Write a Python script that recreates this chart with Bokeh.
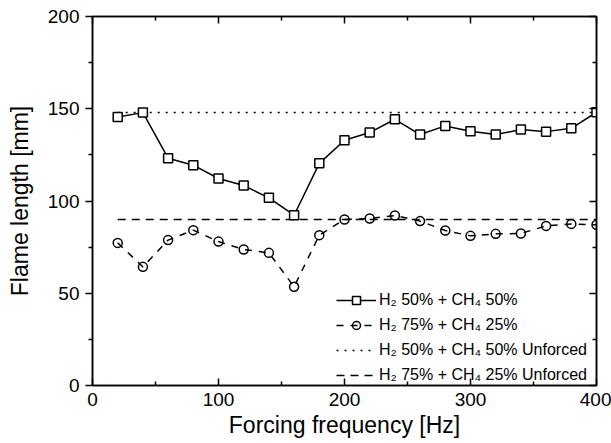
from bokeh.plotting import figure
from bokeh.models import Range1d, LinearAxis, FixedTicker, Legend, LegendItem
from bokeh.embed import file_html
from bokeh.resources import INLINE

# ---- data ----
freq = [20, 40, 60, 80, 100, 120, 140, 160, 180, 200,
        220, 240, 260, 280, 300, 320, 340, 360, 380, 400]
h2_50_ch4_50 = [145.5, 147.9, 123.2, 119.4, 112.2, 108.4, 101.7, 92.3, 120.4, 132.9,
                137.1, 144.3, 136.0, 140.7, 137.8, 136.0, 138.7, 137.6, 139.4, 148.1]
h2_75_ch4_25 = [77.3, 64.3, 78.8, 84.2, 78.0, 73.7, 71.9, 53.5, 81.5, 90.0,
                90.5, 92.1, 89.1, 84.0, 81.1, 82.2, 82.4, 86.5, 87.6, 87.1]
unforced_50 = 147.9
unforced_75 = 90.0
x_ticks = [0, 100, 200, 300, 400]
x_minor = [50, 150, 250, 350]
y_ticks = [0, 50, 100, 150, 200]
y_minor = [25, 75, 125, 175]
labels = ["H\u2082 50% + CH\u2084 50%",
          "H\u2082 75% + CH\u2084 25%",
          "H\u2082 50% + CH\u2084 50% Unforced",
          "H\u2082 75% + CH\u2084 25% Unforced"]

FONT = "Liberation Sans"

p = figure(width=611, height=443, output_backend="svg", toolbar_location=None,
           x_range=Range1d(0, 400), y_range=Range1d(0, 200),
           x_axis_label="Forcing frequency [Hz]", y_axis_label="Flame length [mm]")
p.min_border_left = 92
p.min_border_right = 15
p.min_border_top = 16
p.min_border_bottom = 58
p.xgrid.visible = False
p.ygrid.visible = False
p.outline_line_color = "black"
p.outline_line_width = 1.5
p.background_fill_color = "white"
p.border_fill_color = "white"

xt = FixedTicker(ticks=x_ticks, minor_ticks=x_minor)
yt = FixedTicker(ticks=y_ticks, minor_ticks=y_minor)

def style(ax, ticker, ticks, inside, show_labels):
    ax.ticker = ticker
    ax.axis_line_color = "black"
    ax.axis_line_width = 1.5
    ax.major_tick_line_width = 1.5
    ax.minor_tick_line_width = 1.5
    ax.major_tick_line_color = "black"
    ax.minor_tick_line_color = "black"
    if inside:
        ax.major_tick_in, ax.major_tick_out = 7, 0
        ax.minor_tick_in, ax.minor_tick_out = 4, 0
    else:
        ax.major_tick_in, ax.major_tick_out = 0, 7
        ax.minor_tick_in, ax.minor_tick_out = 0, 4
    if show_labels:
        ax.major_label_text_font = FONT
        ax.major_label_text_font_size = "19px"
        ax.major_label_text_color = "black"
        ax.axis_label_text_font = FONT
        ax.axis_label_text_font_size = "23px"
        ax.axis_label_text_font_style = "normal"
        ax.axis_label_text_color = "black"
    else:
        ax.major_label_overrides = {t: "" for t in ticks}
        ax.major_label_standoff = 0

xa = p.xaxis[0]
ya = p.yaxis[0]
style(xa, xt, x_ticks, True, True)
style(ya, yt, y_ticks, False, True)
xa.major_label_standoff = 7
xa.axis_label_standoff = 3
ya.major_label_standoff = 6
ya.axis_label_standoff = 12

top = LinearAxis()
style(top, xt, x_ticks, True, False)
right = LinearAxis()
style(right, yt, y_ticks, True, False)
p.add_layout(top, "above")
p.add_layout(right, "right")

# unforced reference lines (span of the forcing range)
ux = [freq[0], freq[-1]]
r3 = p.line(ux, [unforced_50, unforced_50], line_color="black", line_width=1.5,
            line_dash="2 6")
r4 = p.line(ux, [unforced_75, unforced_75], line_color="black", line_width=1.5,
            line_dash="8 6")

# forced series
r1l = p.line(freq, h2_50_ch4_50, line_color="black", line_width=1.5)
r1m = p.scatter(freq, h2_50_ch4_50, marker="square", size=9, line_color="black",
                line_width=1.5, fill_color="white")
r2l = p.line(freq, h2_75_ch4_25, line_color="black", line_width=1.5, line_dash="7 7")
r2m = p.scatter(freq, h2_75_ch4_25, marker="circle", size=9, line_color="black",
                line_width=1.5, fill_color=None)

legend = Legend(items=[
    LegendItem(label=labels[0], renderers=[r1l, r1m]),
    LegendItem(label=labels[1], renderers=[r2l, r2m]),
    LegendItem(label=labels[2], renderers=[r3]),
    LegendItem(label=labels[3], renderers=[r4]),
], location=(244, 0))
legend.label_text_font = FONT
legend.label_text_font_size = "16px"
legend.label_text_color = "black"
legend.glyph_width = 40
legend.glyph_height = 20
legend.label_height = 20
legend.spacing = 5
legend.padding = 2
legend.margin = 0
legend.label_standoff = 3
legend.border_line_color = None
legend.background_fill_alpha = 0
p.add_layout(legend, "center")

open("out.html", "w").write(file_html(p, INLINE))
